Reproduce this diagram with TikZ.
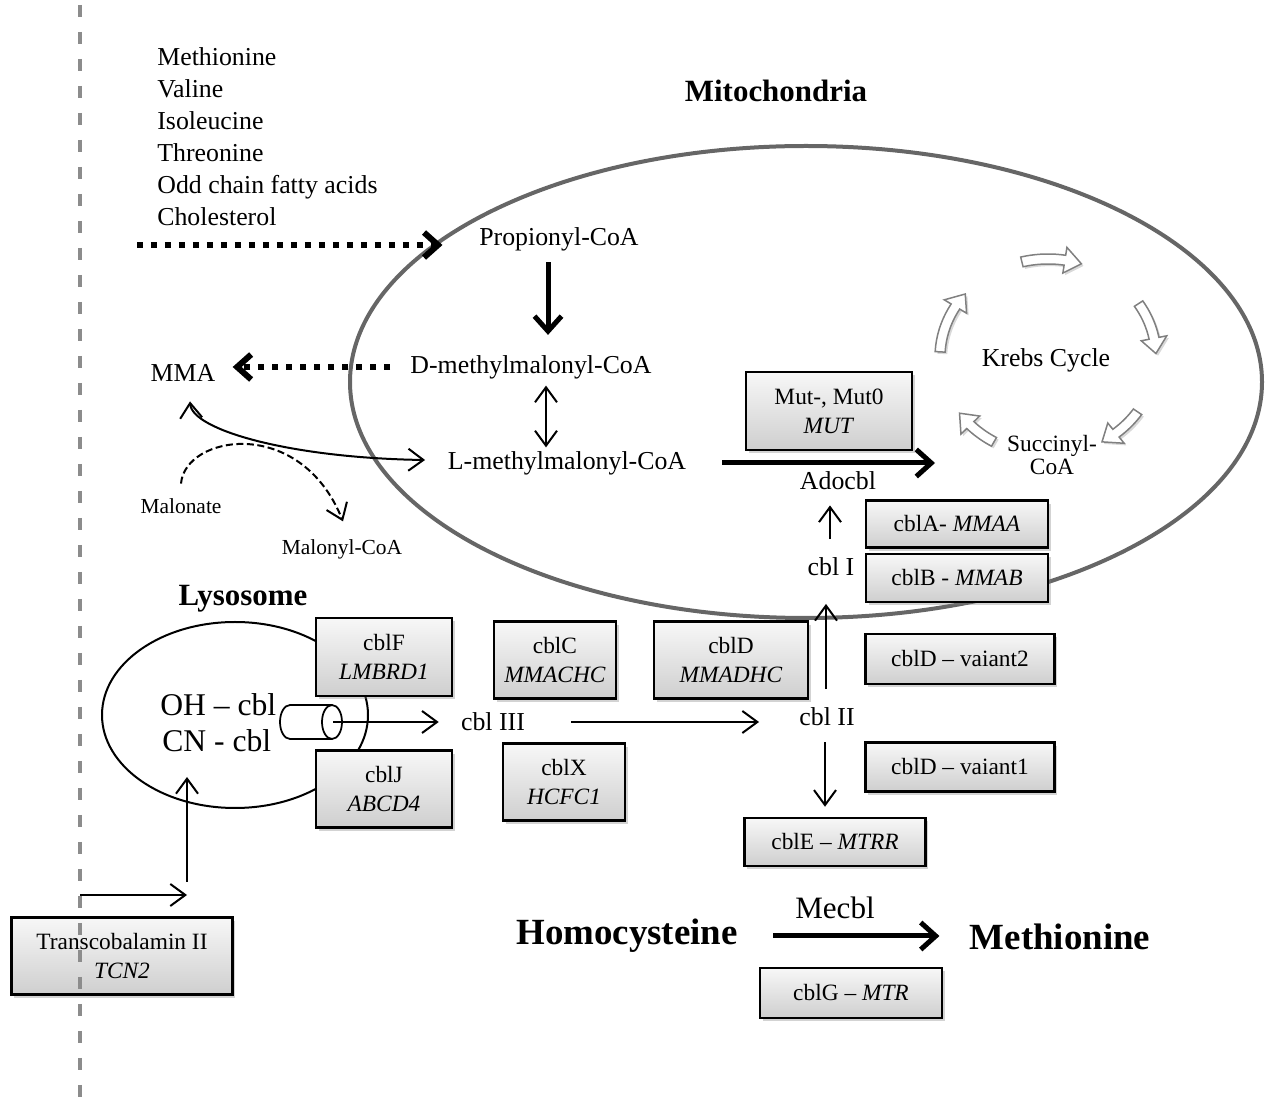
\documentclass[tikz,border=0pt]{standalone}
\usepackage{fontspec}
\setmainfont{Liberation Serif}
\usetikzlibrary{arrows.meta,calc,shadows,positioning}

\tikzset{
  txt/.style={font=\fontsize{14.7}{17}\selectfont, inner sep=2pt},
  smalltxt/.style={font=\fontsize{12.2}{14}\selectfont, inner sep=2pt},
  boldtxt/.style={font=\bfseries\fontsize{17.6}{20}\selectfont, inner sep=2pt},
  bigtxt/.style={font=\bfseries\fontsize{21}{24}\selectfont, inner sep=2pt},
  genebox/.style={draw, line width=0.05cm, top color=gray!6, bottom color=gray!38,
    align=center, inner sep=0pt, font=\fontsize{13.3}{16.4}\selectfont,
    drop shadow={opacity=0.35, shadow xshift=1.6pt, shadow yshift=-1.8pt}},
  lightarr/.style={line width=0.04cm, -{Straight Barb[length=0.3cm,width=0.44cm]}},
  heavyarr/.style={line width=0.1cm, -{Straight Barb[length=0.3cm,width=0.54cm]}},
  dotarr/.style={line width=0.12cm, dash pattern=on 0.12cm off 0.16cm,
    -{Straight Barb[length=0.28cm,width=0.5cm]}},
  krebsblock/.style={draw=gray, fill=white, line width=0.03cm,
    drop shadow={opacity=0.3, shadow xshift=1.2pt, shadow yshift=-1.2pt}}
}

% block arrow of the Krebs cycle, from angle #1 to angle #2
\newcommand{\krebsarrow}[2]{%
  \pgfmathsetmacro{\kbase}{#2-9}%
  \draw[krebsblock] plot[domain=#1:\kbase, samples=10] ({1048+113*cos(\x)},{357+103*sin(\x)})
    -- ({1048+121*cos(\kbase)},{357+111*sin(\kbase)})
    -- ({1048+108*cos(#2)},{357+98*sin(#2)})
    -- ({1048+95*cos(\kbase)},{357+85*sin(\kbase)})
    -- plot[domain=\kbase:#1, samples=10] ({1048+103*cos(\x)},{357+93*sin(\x)})
    -- cycle;}

\begin{document}
\begin{tikzpicture}[x=0.02cm, y=-0.02cm]
\useasboundingbox (0,0) rectangle (1272,1097);

% Drawing mitochondria membrane
\draw[line width=0.08cm, black!60] (806,382) ellipse [x radius=456, y radius=236];

% Drawing lysosome membrane
\draw[line width=0.04cm] (235,715) ellipse [x radius=133, y radius=93];

% Marking compartment labels
\node[boldtxt] (mitolab) at (776,91) {Mitochondria};
\node[boldtxt] (lysolab) at (243,599) {Lysosome};

% Marking precursors
\node[txt, anchor=base west, inner sep=0] (met) at (157,66) {Methionine};
\node[txt, anchor=base west, inner sep=0] (val) at (157,98) {Valine};
\node[txt, anchor=base west, inner sep=0] (ile) at (157,130) {Isoleucine};
\node[txt, anchor=base west, inner sep=0] (thr) at (157,162) {Threonine};
\node[txt, anchor=base west, inner sep=0] (odd) at (157,194) {Odd chain fatty acids};
\node[txt, anchor=base west, inner sep=0] (cho) at (157,226) {Cholesterol};

% Marking metabolites
\node[txt] (prop) at (559,239) {Propionyl-CoA};
\node[txt] (dmm) at (531,367) {D-methylmalonyl-CoA};
\node[txt] (lmm) at (567,463) {L-methylmalonyl-CoA};
\node[txt] (mma) at (183,373) {MMA};
\node[smalltxt] (malonate) at (181,506) {Malonate};
\node[smalltxt] (malonyl) at (342,549) {Malonyl-CoA};

% Drawing precursors to propionyl-CoA
\coordinate (src) at (137,245);
\draw[dotarr, shorten >=0.66cm] (src) -- (src -| prop.west);

% Drawing propionyl-CoA to D-methylmalonyl-CoA
\draw[heavyarr, shorten <=0.15cm, shorten >=0.33cm] ($(prop.south)+(-11,0)$) -- ($(dmm.north)+(17,0)$);

% Drawing D- and L-methylmalonyl-CoA
\draw[lightarr, {Straight Barb[length=0.3cm,width=0.44cm]}-{Straight Barb[length=0.3cm,width=0.44cm]}]
  ($(dmm.south)+(15,3)$) -- ($(lmm.north)+(-21,0)$);

% Drawing D-methylmalonyl-CoA to MMA
\draw[dotarr, shorten <=0.33cm, shorten >=0.27cm] (dmm.west) -- (dmm.west -| mma.east);

% Drawing MMA and L-methylmalonyl-CoA
\draw[lightarr, {Straight Barb[length=0.3cm,width=0.44cm]}-{Straight Barb[length=0.3cm,width=0.44cm]}]
  ($(mma.south)+(7,16)$) .. controls (192,430) and (290,458) .. ($(lmm.west)+(-19,-3)$);

% Drawing malonate to malonyl-CoA
\draw[lightarr, dash pattern=on 4pt off 2pt] ($(malonate.north)+(0,-11)$) .. controls (185,435) and (300,415) .. ($(malonyl.north)+(1,-14)$);

% Marking Krebs cycle
\krebsarrow{-104}{-72}
\krebsarrow{-33}{-2}
\krebsarrow{34}{60}
\krebsarrow{120}{145}
\krebsarrow{183}{220}
\node[txt] (krebs) at (1046,360) {Krebs Cycle};
\node[txt, font=\fontsize{13.3}{13.6}\selectfont, align=center] (succ) at (1052,455) {Succinyl-\\CoA};

% Drawing L-methylmalonyl-CoA to succinyl-CoA
\coordinate (lmmout) at (935,463);
\draw[heavyarr, shorten <=0.65cm] (lmm.east) -- (lmmout);

% Marking gene boxes
\node[genebox, minimum width=3.32cm, minimum height=1.56cm] (mut) at (829,411) {Mut-, Mut0\\\textit{MUT}};
\node[genebox, minimum width=3.64cm, minimum height=0.94cm] (cbla) at (957,524) {cblA- \textit{MMAA}};
\node[genebox, minimum width=3.64cm, minimum height=0.96cm] (cblb) at (957,578) {cblB - \textit{MMAB}};
\node[genebox, minimum width=3.78cm, minimum height=1.00cm] (var2) at (960,659) {cblD -- vaiant2};
\node[genebox, minimum width=3.78cm, minimum height=0.98cm] (var1) at (960,767) {cblD -- vaiant1};
\node[genebox, minimum width=3.62cm, minimum height=0.96cm] (cble) at (835,842) {cblE -- \textit{MTRR}};
\node[genebox, minimum width=2.44cm, minimum height=1.54cm] (cblc) at (555,660) {cblC\\\textit{MMACHC}};
\node[genebox, minimum width=3.08cm, minimum height=1.54cm] (cbld) at (731,660) {cblD\\\textit{MMADHC}};
\node[genebox, minimum width=2.44cm, minimum height=1.54cm] (cblx) at (564,782) {cblX\\\textit{HCFC1}};
\node[genebox, minimum width=2.72cm, minimum height=1.56cm] (cblf) at (384,657) {cblF\\\textit{LMBRD1}};
\node[genebox, minimum width=2.72cm, minimum height=1.54cm] (cblj) at (384,789) {cblJ\\\textit{ABCD4}};
\node[genebox, minimum width=4.42cm, minimum height=1.54cm] (tcn) at (122,956) {Transcobalamin II\\\textit{TCN2}};
\node[genebox, minimum width=3.64cm, minimum height=1.00cm] (cblg) at (851,993) {cblG -- \textit{MTR}};

% Marking cobalamin forms
\node[txt, font=\fontsize{18}{20}\selectfont, anchor=base west, inner sep=0] (ohcbl) at (160,716) {OH -- cbl};
\node[txt, font=\fontsize{18}{20}\selectfont, anchor=base west, inner sep=0] (cncbl) at (162,752) {CN - cbl};
\node[txt] (cbl3) at (493,722) {cbl III};
\node[txt] (cbl2) at (827,717) {cbl II};
\node[txt] (cbl1) at (831,567) {cbl I};
\node[txt] (adocbl) at (838,481) {Adocbl};

% Drawing lysosomal exporter
\draw[line width=0.035cm, fill=white] (332,705) -- (290,705)
  arc[start angle=270, end angle=90, x radius=10, y radius=17] -- (332,739);
\draw[line width=0.035cm, fill=white] (332,722) ellipse [x radius=10, y radius=17];
\coordinate (cylout) at (333,722);

% Drawing cobalamin processing
\draw[lightarr, shorten >=0.37cm] (cylout) -- (cbl3.west);
\draw[lightarr, shorten <=0.85cm, shorten >=0.73cm] (cbl3.east) -- (cbl3.east -| cbl2.west);
\draw[lightarr, shorten <=0.3cm, shorten >=0.48cm] ($(cbl2.north)+(-1,0)$) -- ($(cbl1.south)+(-5,0)$);
\draw[lightarr, shorten <=0.3cm, shorten >=0.23cm] ($(cbl1.north)+(-1,0)$) -- ($(adocbl.south)+(-8,0)$);
\draw[lightarr, shorten <=0.25cm, shorten >=0.2cm] ($(cbl2.south)+(-2,0)$) -- ($(cble.north)+(-10,0)$);

% Drawing uptake by transcobalamin
\coordinate (tcnin) at (80,895);
\coordinate (tcnout) at (187,895);
\coordinate (lysoin) at (187,882);
\coordinate (lysobot) at (187,777);
\draw[lightarr] (tcnin) -- (tcnout);
\draw[lightarr] (lysoin) -- (lysobot);

% Drawing homocysteine remethylation
\node[bigtxt] (homocys) at (627,936) {Homocysteine};
\node[bigtxt] (meth) at (1060,937) {Methionine};
\node[txt, font=\fontsize{17.7}{20}\selectfont] (mecbl) at (835,908) {Mecbl};
\draw[heavyarr, shorten <=0.63cm, shorten >=0.53cm] (homocys.east) -- (homocys.east -| meth.west);

% Drawing cell boundary
\draw[black!45, line width=0.08cm, dash pattern=on 0.24cm off 0.3cm] (80,5) -- (80,1097);
\end{tikzpicture}
\end{document}
